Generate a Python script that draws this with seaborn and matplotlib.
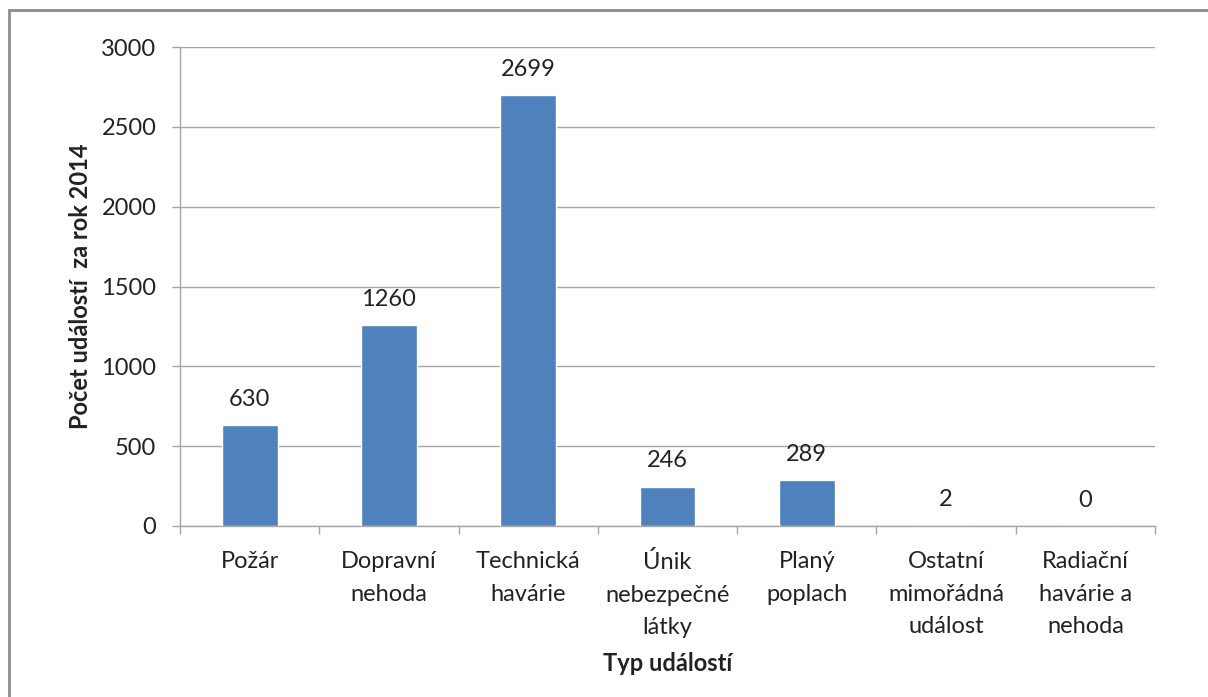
import pandas as pd
import matplotlib.pyplot as plt
import seaborn as sns
from matplotlib.patches import Rectangle

#--------------------------------------------------------
categories=['Požár', 'Dopravní\nnehoda', 'Technická\nhavárie', 'Únik\nnebezpečné\nlátky',
	'Planý\npoplach', 'Ostatní\nmimořádná\nudálost', 'Radiační\nhavárie a\nnehoda']
values=[630, 1260, 2699, 246, 289, 2, 0]
yticks=[0, 500, 1000, 1500, 2000, 2500, 3000]

bar_color='#4F81BD'
grid_color='#A6A6A6'
txt_color='#222222'
fs=17

#--------------------------------------------------------
df=pd.DataFrame({'typ': categories, 'pocet': values})

sns.set_style('white')
plt.rcParams['font.family']=['Lato', 'DejaVu Sans']

fig=plt.figure(figsize=(12.08, 6.97), dpi=100)
ax=fig.add_axes([180/1208, 1-526/697, (1155-180)/1208, (526-47)/697])

sns.barplot(x='typ', y='pocet', data=df, color=bar_color, width=0.4, saturation=1, ax=ax, zorder=3)

#labels above bars
for i, v in enumerate(values):
	ax.annotate(str(v), (i, v), xytext=(0, 11), textcoords='offset points',
		ha='center', va='bottom', fontsize=fs, color=txt_color)

#axes
ax.set_xlim(-0.5, len(categories)-0.5)
ax.set_ylim(0, 3000)
ax.set_yticks(yticks)
ax.yaxis.grid(True, color=grid_color, lw=1, zorder=0)
ax.set_axisbelow(True)
ax.set_xticks(range(len(categories)))
ax.set_xticklabels(categories, fontsize=fs, color=txt_color, linespacing=1.68)
ax.set_xticks([i-0.5 for i in range(len(categories)+1)], minor=True)
ax.tick_params(axis='x', which='major', length=0, pad=18)
ax.tick_params(axis='x', which='minor', length=6, width=1, color=grid_color, direction='out')
ax.tick_params(axis='y', length=6, width=1, color=grid_color, direction='out', pad=11,
	labelsize=fs, labelcolor=txt_color)
ax.tick_params(bottom=True, left=True, which='both')

for s in ['top', 'right']:
	ax.spines[s].set_visible(False)
for s in ['left', 'bottom']:
	ax.spines[s].set_color(grid_color)
	ax.spines[s].set_linewidth(1)

ax.set_xlabel('Typ událostí', fontsize=fs, weight='bold', color=txt_color, labelpad=10)
ax.set_ylabel('Počet událostí  za rok 2014', fontsize=fs, weight='bold', color=txt_color, labelpad=7)

#outer frame
fig.patches.append(Rectangle((9/1208, -0.05), 1.1, 1-10/697+0.05, transform=fig.transFigure,
	fill=False, edgecolor='#8C8C8C', lw=2))

fig.savefig('out.png', dpi=100)
plt.close()
